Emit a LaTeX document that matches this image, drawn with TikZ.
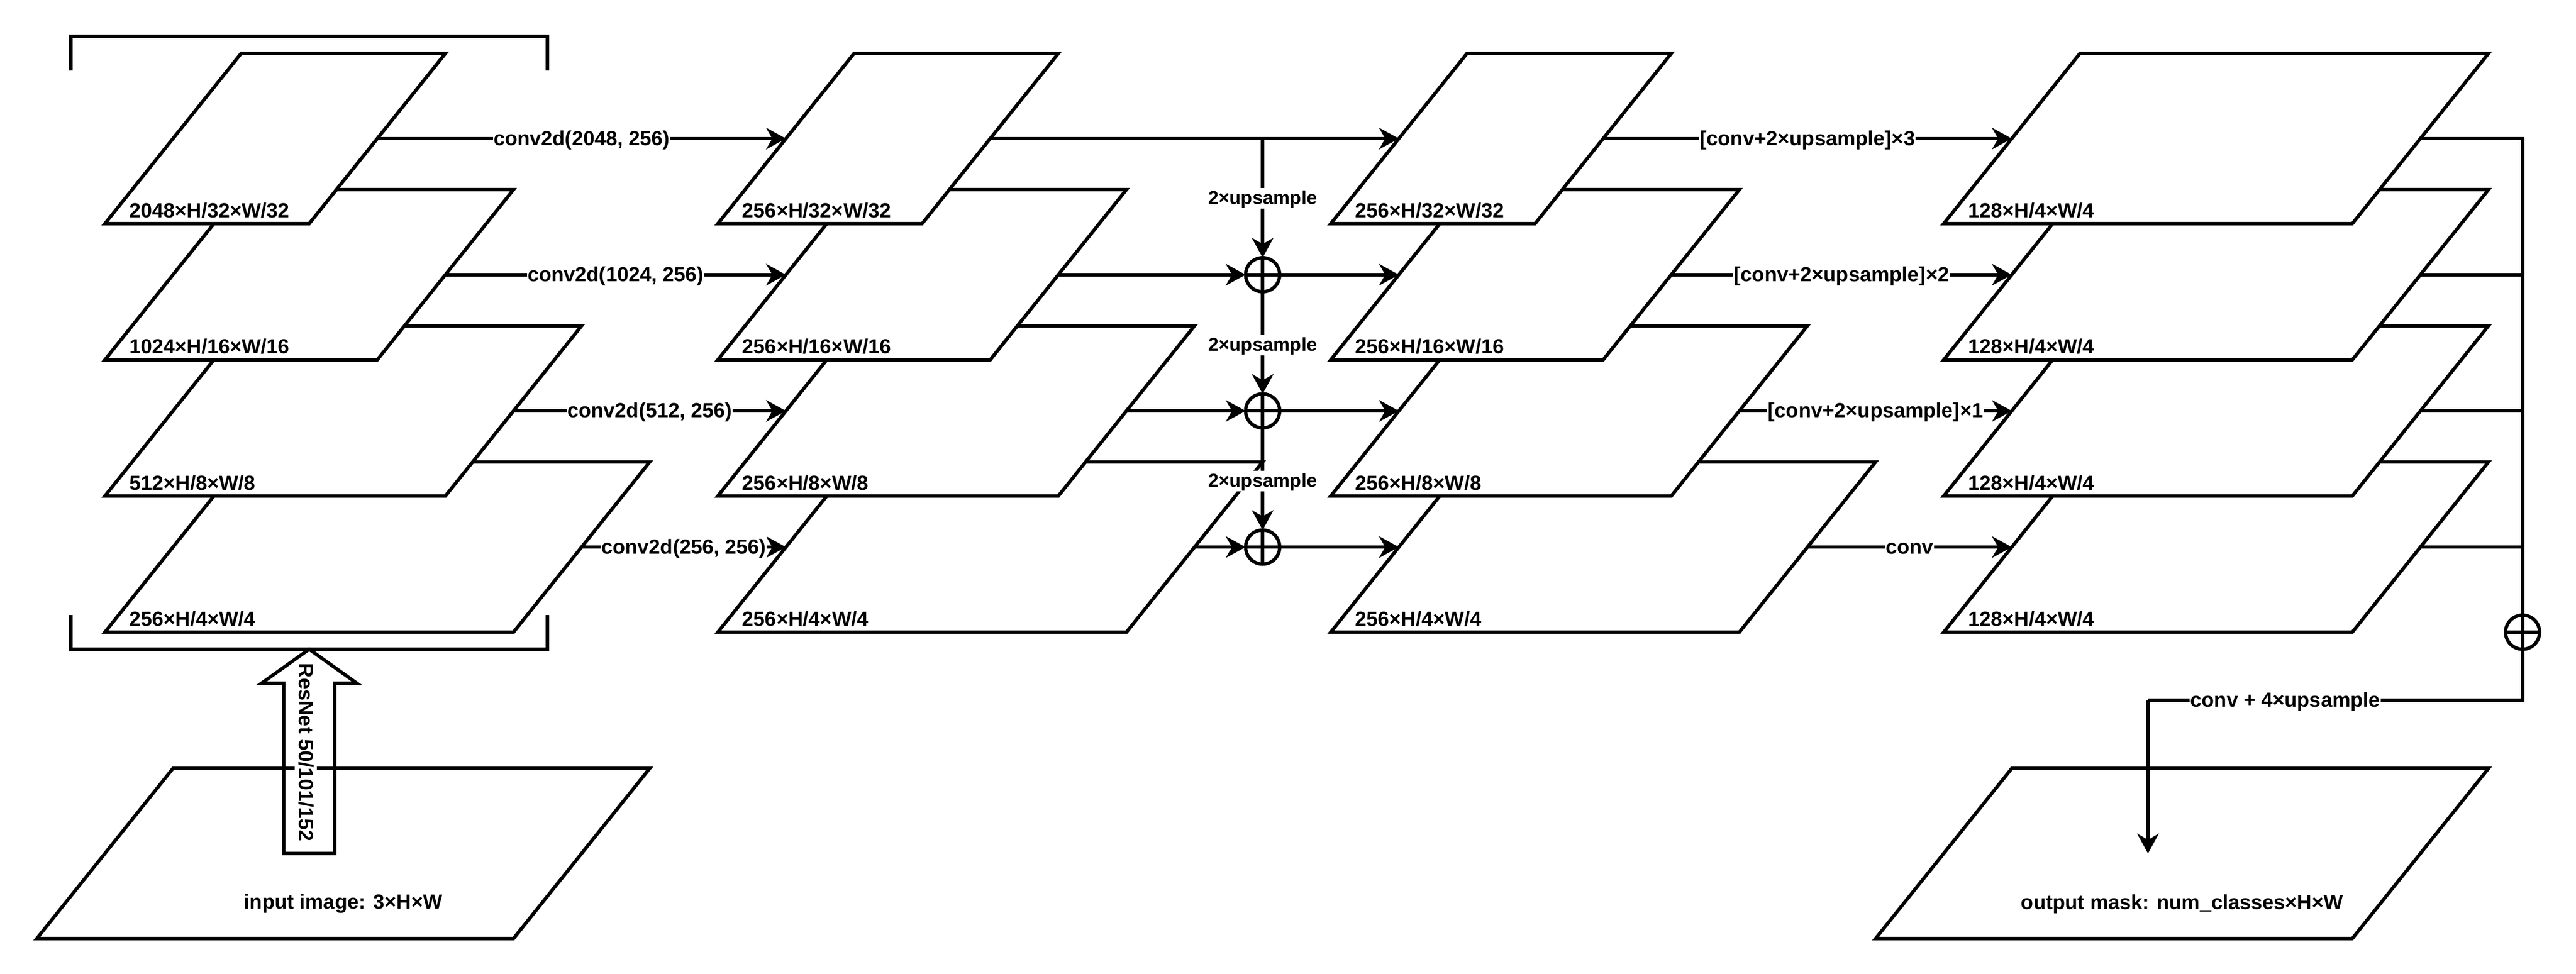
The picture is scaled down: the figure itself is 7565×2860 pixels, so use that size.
\documentclass[tikz,border=0pt]{standalone}
\usepackage{fontspec}
\setmainfont{Liberation Sans}
\usetikzlibrary{arrows.meta}
\tikzset{
  para/.style={rectangle,xslant=0.8,transform shape,
    draw=black,fill=white,line width=1pt,inner sep=0pt,outer sep=0pt,minimum height=50pt,line join=miter},
  w600/.style={para,minimum width=60pt},
  w800/.style={para,minimum width=80pt},
  w1000/.style={para,minimum width=100pt},
  w1200/.style={para,minimum width=120pt},
  w1400/.style={para,minimum width=140pt},
  dim/.style={font=\fontsize{6}{7}\selectfont\bfseries,anchor=base west,inner sep=0pt,outer sep=0pt},
  caption/.style={font=\fontsize{6}{7}\selectfont\bfseries,inner sep=0pt},
  lab/.style={font=\fontsize{6}{7}\selectfont\bfseries,fill=white,inner xsep=0.2pt,inner ysep=0pt,text height=5.3pt,text depth=1.3pt},
  smalllab/.style={lab,font=\fontsize{5.5}{6.5}\selectfont\bfseries,text height=4.84pt,text depth=1.2pt},
  conn/.style={line width=1pt,draw=black},
  arr/.style={conn,-{Stealth[length=5.8pt,width=6.3pt,inset=1.8pt]}},
  sumnode/.style={circle,draw=black,line width=1pt,minimum size=10pt,inner sep=0pt,outer sep=0pt},
  hollow/.style={draw=black,line width=1pt,line join=miter},
}
\begin{document}
\begin{tikzpicture}[x=0.1pt,y=-0.1pt]
\useasboundingbox (0,0) rectangle (7565,2860);
% bracket
\draw[hollow] (208,207) -- (208,107) -- (1608,107) -- (1608,207);
\draw[hollow] (208,1807) -- (208,1907) -- (1608,1907) -- (1608,1807);
% column 1
\node[w1200] (a4) at (1108,1607) {};
\node[w1000] (a3) at (1008,1207) {};
\node[w800] (a2) at (908,807) {};
\node[w600] (a1) at (808,407) {};
% column 2
\node[w1200] (b4) at (2908,1607) {};
\node[w1000] (b3) at (2808,1207) {};
\node[w800] (b2) at (2708,807) {};
\node[w600] (b1) at (2608,407) {};
% column 3
\node[w1200] (d4) at (4708,1607) {};
\node[w1000] (d3) at (4608,1207) {};
\node[w800] (d2) at (4508,807) {};
\node[w600] (d1) at (4408,407) {};
% column 4
\node[w1200] (e4) at (6508,1607) {};
\node[w1200] (e3) at (6508,1207) {};
\node[w1200] (e2) at (6508,807) {};
\node[w1200] (e1) at (6508,407) {};
% input and output
\node[w1400] (inp) at (1008,2507) {};
\node[w1400] (outp) at (6408,2507) {};
% dimension labels
\node[dim] (ta1) at (380,639) {2048×H/32×W/32};
\node[dim] (ta2) at (380,1039) {1024×H/16×W/16};
\node[dim] (ta3) at (380,1439) {512×H/8×W/8};
\node[dim] (ta4) at (380,1839) {256×H/4×W/4};
\node[dim] (tb1) at (2180,639) {256×H/32×W/32};
\node[dim] (tb2) at (2180,1039) {256×H/16×W/16};
\node[dim] (tb3) at (2180,1439) {256×H/8×W/8};
\node[dim] (tb4) at (2180,1839) {256×H/4×W/4};
\node[dim] (td1) at (3980,639) {256×H/32×W/32};
\node[dim] (td2) at (3980,1039) {256×H/16×W/16};
\node[dim] (td3) at (3980,1439) {256×H/8×W/8};
\node[dim] (td4) at (3980,1839) {256×H/4×W/4};
\node[dim] (te1) at (5780,639) {128×H/4×W/4};
\node[dim] (te2) at (5780,1039) {128×H/4×W/4};
\node[dim] (te3) at (5780,1439) {128×H/4×W/4};
\node[dim] (te4) at (5780,1839) {128×H/4×W/4};
\node[caption] (tinp) at (1008,2655) {input image: 3×H×W};
\node[caption] (toutp) at (6408,2655) {output mask: num\_classes×H×W};
% sum nodes
\node[sumnode] (c1) at (3708,807) {};
\node[sumnode] (c2) at (3708,1207) {};
\node[sumnode] (c3) at (3708,1607) {};
\node[sumnode] (c4) at (7408,1857) {};
\foreach \s in {c1,c2,c3,c4} {
  \draw[conn] (\s.north) -- (\s.south);
  \draw[conn] (\s.west) -- (\s.east);
}
% column 1 to column 2
\draw[arr] (a1.east) -- node[lab] (l1) {conv2d(2048, 256)} (b1.west);
\draw[arr] (a2.east) -- node[lab] (l2) {conv2d(1024, 256)} (b2.west);
\draw[arr] (a3.east) -- node[lab] (l3) {conv2d(512, 256)} (b3.west);
\draw[arr] (a4.east) -- node[lab] (l4) {conv2d(256, 256)} (b4.west);
% column 2 to column 3
\draw[arr] (b1.east) -- (d1.west);
\draw[arr] (b2.east) -- (c1.west);
\draw[arr] (b3.east) -- (c2.west);
\draw[arr] (b4.east) -- (c3.west);
\draw[arr] (c1.east) -- (d2.west);
\draw[arr] (c2.east) -- (d3.west);
\draw[arr] (c3.east) -- (d4.west);
% upsampling chain
\draw[arr] (c1 |- b1.east) -- node[smalllab,pos=.5] (u1) {2×upsample} (c1.north);
\draw[arr] (c1.south) -- node[smalllab,pos=.52] (u2) {2×upsample} (c2.north);
\draw[arr] (c2.south) -- node[smalllab,pos=.52] (u3) {2×upsample} (c3.north);
% column 3 to column 4
\draw[arr] (d1.east) -- node[lab] (l5) {[conv+2×upsample]×3} (e1.west);
\draw[arr] (d2.east) -- node[lab] (l6) {[conv+2×upsample]×2} (e2.west);
\draw[arr] (d3.east) -- node[lab] (l7) {[conv+2×upsample]×1} (e3.west);
\draw[arr] (d4.east) -- node[lab] (l8) {conv} (e4.west);
% bus on the right
\draw[conn] (e1.east) -| (c4.north);
\draw[conn] (e2.east) -- (e2.east -| c4.north);
\draw[conn] (e3.east) -- (e3.east -| c4.north);
\draw[conn] (e4.east) -- (e4.east -| c4.north);
% output connector
\coordinate (turnr) at (7408,2057);
\coordinate (turnl) at (6308,2057);
\coordinate (tip) at (6308,2507);
\draw[conn] (c4.south) -- (turnr) -- (turnl);
\draw[arr] (turnl) -- (tip);
\node[lab] (l9) at (6711,2057) {conv + 4×upsample};
% ResNet hollow arrow
\draw[hollow] (908,1907) -- (1048,2007) -- (983,2007) -- (983,2507) -- (833,2507) -- (833,2007) -- (768,2007) -- cycle;
\node[lab,rotate=-90] (rn) at (898,2210) {ResNet 50/101/152};
\end{tikzpicture}
\end{document}
